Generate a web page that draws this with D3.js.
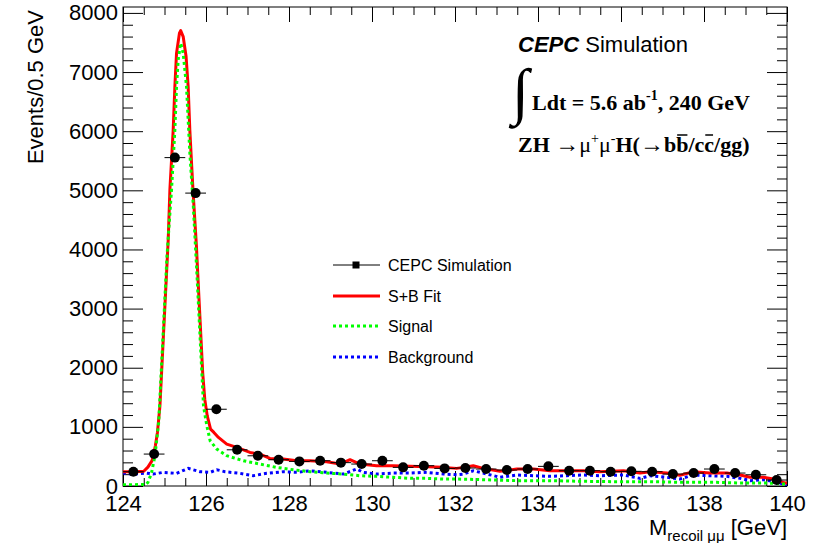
<!DOCTYPE html>
<html>
<head>
<meta charset="utf-8">
<script src="https://cdn.jsdelivr.net/npm/d3@7"></script>
<style>
body { margin: 0; background: #fff; }
text { font-family: "Liberation Sans", Arial, Helvetica, sans-serif; }
.serif { font-family: "Liberation Serif", "Times New Roman", serif; }
</style>
</head>
<body>
<script>
// data points (bin centres, 0.5 GeV bins)
let dataX = [124.25, 124.75, 125.25, 125.75, 126.25, 126.75, 127.25, 127.75,
  128.25, 128.75, 129.25, 129.75, 130.25, 130.75, 131.25, 131.75,
  132.25, 132.75, 133.25, 133.75, 134.25, 134.75, 135.25, 135.75,
  136.25, 136.75, 137.25, 137.75, 138.25, 138.75, 139.25, 139.75]
let dataY = [241, 540, 5553, 4953, 1298, 612, 511, 444,
  416, 427, 395, 371, 427, 315, 343, 298,
  304, 287, 270, 287, 332, 258, 258, 241,
  248, 241, 202, 219, 287, 219, 190, 101]

// S+B fit curve
let fitX = [124.0, 124.3, 124.5, 124.6, 124.7, 124.78, 124.83, 124.89, 124.93, 124.97,
  125.01, 125.05, 125.09, 125.13, 125.21, 125.25, 125.29, 125.36, 125.39, 125.45,
  125.52, 125.57, 125.61, 125.66, 125.69, 125.73, 125.77, 125.80, 125.84, 125.88,
  125.92, 125.97, 126.03, 126.11, 126.19, 126.30, 126.50, 126.74, 127.06, 127.30,
  127.54, 127.86, 128.19, 128.51, 128.91, 129.23, 129.47, 129.71, 130.11, 130.51,
  130.92, 131.32, 131.72, 132.04, 132.20, 132.44, 132.68, 133.08, 133.49, 133.89,
  134.29, 134.69, 135.09, 135.49, 136.06, 136.46, 136.70, 137.10, 137.42, 137.74,
  138.14, 138.55, 138.87, 139.11, 139.43, 139.67, 139.91, 140.0]
let fitY = [241, 241, 250, 320, 430, 680, 906, 1355, 1919, 2481,
  3043, 3606, 4169, 5013, 6025, 6756, 7320, 7657, 7700, 7600,
  7262, 6756, 6025, 5350, 4956, 4506, 4050, 3606, 3043, 2481,
  1919, 1468, 1186, 962, 906, 822, 709, 653, 568, 540,
  467, 456, 427, 427, 410, 371, 444, 371, 343, 343,
  332, 326, 315, 298, 315, 343, 298, 250, 287, 287,
  258, 258, 258, 241, 258, 219, 241, 219, 180, 241,
  219, 219, 186, 147, 147, 118, 62, 45]

// signal component
let sigX = [124.0, 124.55, 124.60, 124.65, 124.69, 124.77, 124.86, 124.90, 124.94, 124.98,
  125.02, 125.06, 125.10, 125.17, 125.25, 125.29, 125.33, 125.39, 125.45, 125.53,
  125.61, 125.69, 125.75, 125.78, 125.84, 125.90, 125.94, 126.02, 126.10, 126.26,
  126.50, 126.90, 127.30, 127.70, 128.10, 128.51, 128.91, 129.31, 129.71, 130.11,
  130.51, 130.92, 131.32, 131.72, 132.04, 132.68, 133.49, 134.29, 135.09, 135.89,
  136.70, 137.50, 138.30, 138.87, 139.51, 139.91, 140.0]
let sigY = [20, 25, 60, 150, 231, 512, 1075, 1637, 2199, 2762,
  3325, 3887, 4300, 5013, 6025, 6756, 7207, 7488, 7320, 6756,
  5632, 4788, 4000, 3606, 2762, 1919, 1355, 1018, 765, 624,
  512, 427, 371, 315, 275, 241, 219, 202, 174, 163,
  147, 129, 129, 118, 118, 107, 90, 90, 79, 73,
  73, 62, 62, 51, 51, 34, 30]

// background component
let bkgX = [124.0, 124.25, 124.55, 124.73, 124.97, 125.29, 125.57, 125.86, 126.10, 126.26,
  126.46, 126.82, 127.14, 127.46, 127.86, 128.19, 128.51, 128.91, 129.31, 129.63,
  129.79, 130.11, 130.51, 130.92, 131.32, 131.72, 132.04, 132.20, 132.44, 132.68,
  133.08, 133.49, 133.89, 134.29, 134.69, 135.09, 135.49, 136.06, 136.46, 136.70,
  137.10, 137.42, 137.74, 138.14, 138.55, 138.87, 139.11, 139.43, 139.67, 139.91, 140.0]
let bkgY = [220, 200, 219, 202, 231, 214, 298, 241, 231, 275,
  241, 214, 174, 214, 241, 231, 258, 231, 202, 287,
  231, 202, 219, 219, 231, 202, 190, 202, 258, 219,
  147, 186, 174, 163, 174, 186, 174, 186, 129, 174,
  147, 118, 186, 174, 163, 129, 90, 107, 79, 34, 17]

let xTicks = [124, 126, 128, 130, 132, 134, 136, 138, 140]
let yTicks = [0, 1000, 2000, 3000, 4000, 5000, 6000, 7000, 8000]

let w = 816
let h = 543
let padL = 123, padR = 787, padT = 7, padB = 486

let svg = d3.select("body").append("svg")
  .attr("width", w)
  .attr("height", h)

let xScale = d3.scaleLinear().domain([124, 140]).range([padL, padR])
let yScale = d3.scaleLinear().domain([0, 8100]).range([padB, padT])

let clip = svg.append("clipPath").attr("id", "frame")
clip.append("rect").attr("x", padL).attr("y", padT).attr("width", padR - padL).attr("height", padB - padT)

// axes, ROOT style: ticks pointing inward
let xMinor = d3.range(124, 140.01, 0.5).filter(v => v % 2 !== 0)
let yMinor = d3.range(0, 8001, 200).filter(v => v % 1000 !== 0)

svg.append("g").attr("transform", "translate(0," + padB + ")")
  .call(d3.axisBottom(xScale).tickValues(xTicks).tickSize(-15).tickPadding(9).tickFormat(d3.format("d")))
  .attr("class", "ax")
svg.append("g").attr("transform", "translate(0," + padB + ")")
  .call(d3.axisBottom(xScale).tickValues(xMinor).tickSize(-8).tickFormat(""))
  .attr("class", "ax")
svg.append("g").attr("transform", "translate(0," + padT + ")")
  .call(d3.axisTop(xScale).tickValues(xTicks).tickSize(-15).tickFormat(""))
  .attr("class", "ax")
svg.append("g").attr("transform", "translate(0," + padT + ")")
  .call(d3.axisTop(xScale).tickValues(xMinor).tickSize(-8).tickFormat(""))
  .attr("class", "ax")

svg.append("g").attr("transform", "translate(" + padL + ",0)")
  .call(d3.axisLeft(yScale).tickValues(yTicks).tickSize(-20).tickPadding(5).tickFormat(d3.format("d")))
  .attr("class", "ax")
svg.append("g").attr("transform", "translate(" + padL + ",0)")
  .call(d3.axisLeft(yScale).tickValues(yMinor).tickSize(-10).tickFormat(""))
  .attr("class", "ax")
svg.append("g").attr("transform", "translate(" + padR + ",0)")
  .call(d3.axisRight(yScale).tickValues(yTicks).tickSize(-20).tickFormat(""))
  .attr("class", "ax")
svg.append("g").attr("transform", "translate(" + padR + ",0)")
  .call(d3.axisRight(yScale).tickValues(yMinor).tickSize(-10).tickFormat(""))
  .attr("class", "ax")

svg.selectAll(".ax .domain").remove()
svg.selectAll(".ax line").attr("stroke", "#000").attr("stroke-width", 1)
svg.selectAll(".ax text").attr("font-size", 22).attr("fill", "#000")
  .attr("font-family", "'Liberation Sans', Arial, sans-serif")

svg.append("rect")
  .attr("x", padL).attr("y", padT)
  .attr("width", padR - padL).attr("height", padB - padT)
  .attr("fill", "none").attr("stroke", "#000").attr("stroke-width", 1)

// axis titles
svg.append("text")
  .attr("transform", "translate(43,10) rotate(-90)")
  .attr("text-anchor", "end")
  .attr("font-size", 22)
  .text("Events/0.5 GeV")

let xt = svg.append("text")
  .attr("x", padR).attr("y", 535)
  .attr("text-anchor", "end")
  .attr("font-size", 22)
xt.append("tspan").text("M")
xt.append("tspan").attr("font-size", 15).attr("dy", 6).text("recoil  μμ")
xt.append("tspan").attr("dy", -6).text(" [GeV]")

// curves
let line = d3.line().x(d => xScale(d[0])).y(d => yScale(d[1]))
let plot = svg.append("g").attr("clip-path", "url(#frame)")

plot.append("path")
  .datum(bkgX.map((x, i) => [x, bkgY[i]]))
  .attr("d", line)
  .attr("fill", "none").attr("stroke", "#0000ff").attr("stroke-width", 3)
  .attr("stroke-dasharray", "3,3")

plot.append("path")
  .datum(fitX.map((x, i) => [x, fitY[i]]))
  .attr("d", line)
  .attr("fill", "none").attr("stroke", "#ff0000").attr("stroke-width", 3)
  .attr("stroke-linejoin", "round")

plot.append("path")
  .datum(sigX.map((x, i) => [x, sigY[i]]))
  .attr("d", line)
  .attr("fill", "none").attr("stroke", "#00ff00").attr("stroke-width", 3)
  .attr("stroke-dasharray", "3,3")

// data points with error bars
let pts = plot.selectAll(".pt")
  .data(dataX.map((x, i) => [x, dataY[i]]))
  .enter().append("g").attr("class", "pt")
pts.append("line")
  .attr("x1", d => xScale(d[0] - 0.25)).attr("x2", d => xScale(d[0] + 0.25))
  .attr("y1", d => yScale(d[1])).attr("y2", d => yScale(d[1]))
  .attr("stroke", "#000").attr("stroke-width", 1)
pts.append("line")
  .attr("x1", d => xScale(d[0])).attr("x2", d => xScale(d[0]))
  .attr("y1", d => yScale(d[1] - Math.sqrt(d[1]))).attr("y2", d => yScale(d[1] + Math.sqrt(d[1])))
  .attr("stroke", "#000").attr("stroke-width", 1)
pts.append("circle")
  .attr("cx", d => xScale(d[0])).attr("cy", d => yScale(d[1]))
  .attr("r", 5).attr("fill", "#000")

// legend
let legend = svg.append("g")
let rows = [
  {label: "CEPC Simulation", y: 265},
  {label: "S+B Fit", y: 296, color: "#ff0000"},
  {label: "Signal", y: 326, color: "#00ff00", dash: "3,3"},
  {label: "Background", y: 357, color: "#0000ff", dash: "3,3"}
]
rows.forEach((r, i) => {
  if (i === 0) {
    legend.append("line").attr("x1", 333).attr("x2", 380).attr("y1", r.y).attr("y2", r.y)
      .attr("stroke", "#000").attr("stroke-width", 1)
    legend.append("rect").attr("x", 352.5).attr("y", r.y - 3.5).attr("width", 7).attr("height", 7)
      .attr("fill", "#000")
  } else {
    legend.append("line").attr("x1", 333).attr("x2", 380).attr("y1", r.y).attr("y2", r.y)
      .attr("stroke", r.color).attr("stroke-width", 3)
      .attr("stroke-dasharray", r.dash || null)
  }
  legend.append("text").attr("x", 388).attr("y", r.y).attr("dy", "0.36em")
    .attr("font-size", 16).text(r.label)
})

// annotations
let t1 = svg.append("text").attr("x", 518).attr("y", 52).attr("font-size", 22)
t1.append("tspan").attr("font-weight", "bold").attr("font-style", "italic").text("CEPC")
t1.append("tspan").text(" Simulation")

svg.append("text").attr("class", "serif")
  .attr("x", 512).attr("y", 112).attr("font-size", 62)
  .text("∫")

let t2 = svg.append("text").attr("class", "serif")
  .attr("x", 532).attr("y", 110).attr("font-size", 22).attr("font-weight", "bold")
t2.append("tspan").text("Ldt = 5.6 ab")
t2.append("tspan").attr("font-size", 14).attr("dy", -10).text("-1")
t2.append("tspan").attr("dy", 10).text(", 240 GeV")

let t3 = svg.append("text").attr("class", "serif")
  .attr("x", 518).attr("y", 152).attr("font-size", 22)
t3.append("tspan").attr("font-weight", "bold").text("ZH ")
t3.append("tspan").attr("font-size", 24).text("→")
t3.append("tspan").text("μ")
t3.append("tspan").attr("font-size", 14).attr("dy", -9).text("+")
t3.append("tspan").attr("dy", 9).text("μ")
t3.append("tspan").attr("font-size", 14).attr("dy", -9).text("-")
t3.append("tspan").attr("dy", 9).attr("font-weight", "bold").text("H(")
t3.append("tspan").attr("font-size", 24).text("→")
t3.append("tspan").attr("font-weight", "bold").text("bb/cc/gg)")

// overbars on the anti-quarks
let node = t3.node()
let full = node.textContent
;[full.indexOf("b/"), full.indexOf("c/")].forEach(i => {
  let box = node.getExtentOfChar(i)
  svg.append("line")
    .attr("x1", box.x + 1).attr("x2", box.x + box.width - 1)
    .attr("y1", 135).attr("y2", 135)
    .attr("stroke", "#000").attr("stroke-width", 1.5)
})
</script>
</body>
</html>
